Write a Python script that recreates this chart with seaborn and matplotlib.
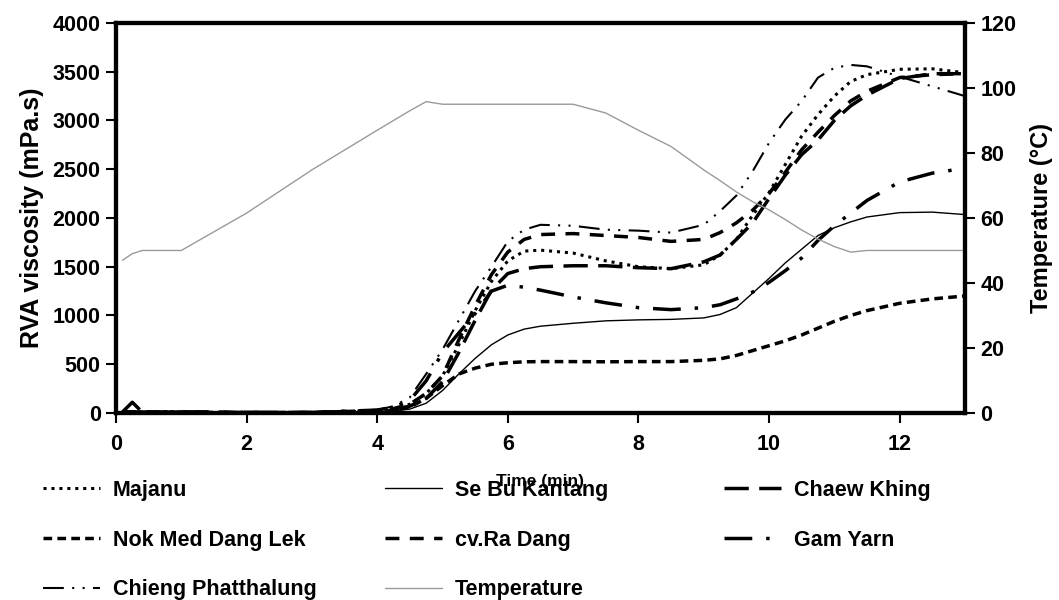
import numpy as np
import pandas as pd
import seaborn as sns
import matplotlib.pyplot as plt

# time points (min)
time = [0.1, 0.25, 0.4, 1, 2, 3, 4, 4.25, 4.5, 4.75, 5, 5.25, 5.5, 5.75,
        6, 6.25, 6.5, 7, 7.5, 8, 8.5, 9, 9.25, 9.5, 9.75, 10, 10.25, 10.5,
        10.75, 11, 11.25, 11.5, 12, 12.5, 13]

# viscosity (mPa.s)
majanu = [10, 10, 10, 10, 5, 5, 20, 40, 90, 200, 380, 700, 1050, 1350,
          1560, 1660, 1670, 1640, 1560, 1500, 1480, 1520, 1620, 1780, 2030,
          2260, 2550, 2840, 3060, 3250, 3400, 3470, 3525, 3530, 3490]
se_bu_kantang = [0, 0, 0, 0, 0, 0, 10, 20, 40, 100, 230, 400, 560, 700,
                 800, 860, 890, 920, 945, 955, 960, 975, 1010, 1080, 1230,
                 1380, 1540, 1680, 1820, 1900, 1960, 2010, 2055, 2060, 2035]
chaew_khing = [10, 110, 10, 10, 5, 5, 25, 40, 70, 150, 320, 620, 950, 1260,
               1430, 1480, 1500, 1510, 1510, 1490, 1480, 1550, 1620, 1780,
               1950, 2200, 2440, 2650, 2800, 3000, 3150, 3260, 3430, 3480, 3480]
nok_med_dang_lek = [0, 0, 0, 0, 0, 0, 15, 25, 60, 150, 280, 400, 460, 500,
                    515, 525, 527, 527, 525, 527, 527, 540, 555, 590, 640,
                    690, 740, 800, 870, 940, 1000, 1050, 1125, 1170, 1200]
ra_dang = [10, 10, 10, 10, 5, 5, 25, 45, 90, 200, 380, 750, 1100, 1420,
           1650, 1780, 1830, 1840, 1820, 1800, 1760, 1780, 1850, 1950, 2080,
           2250, 2470, 2700, 2880, 3050, 3200, 3300, 3440, 3470, 3480]
gam_yarn = [10, 10, 10, 10, 5, 5, 30, 60, 130, 330, 620, 820, 1020, 1250,
            1310, 1290, 1260, 1190, 1130, 1080, 1060, 1080, 1110, 1170, 1240,
            1340, 1460, 1590, 1770, 1920, 2050, 2180, 2370, 2460, 2510]
chieng_phatthalung = [10, 10, 10, 10, 5, 5, 30, 70, 160, 400, 650, 950, 1250,
                      1500, 1760, 1880, 1930, 1920, 1880, 1870, 1850, 1930,
                      2070, 2230, 2480, 2770, 3010, 3200, 3440, 3540, 3570,
                      3555, 3450, 3350, 3250]

# temperature (°C)
temperature = [47, 49, 50, 50, 61.5, 74.8, 87, 90, 93, 95.8, 95, 95, 95, 95,
               95, 95, 95, 95, 92.3, 87, 82, 74.8, 71.5, 68, 65, 62.5, 59.5,
               56.3, 53.5, 51.2, 49.5, 50, 50, 50, 50]

df = pd.DataFrame({'time': time, 'Majanu': majanu, 'Se Bu Kantang': se_bu_kantang,
                   'Chaew Khing': chaew_khing, 'Nok Med Dang Lek': nok_med_dang_lek,
                   'cv.Ra Dang': ra_dang, 'Gam Yarn': gam_yarn,
                   'Chieng Phatthalung': chieng_phatthalung,
                   'Temperature': temperature})

sns.set_style('white')
plt.rcParams['font.family'] = ['Liberation Sans', 'DejaVu Sans']
plt.rcParams['font.weight'] = 'bold'
plt.rcParams['text.color'] = 'black'
plt.rcParams['axes.labelcolor'] = 'black'

styles = {
    'Majanu': dict(lw=2.2, ls=(0, (1, 1.6))),
    'Se Bu Kantang': dict(lw=1.0, ls='-'),
    'Chaew Khing': dict(lw=2.5, ls=(0, (7, 3))),
    'Nok Med Dang Lek': dict(lw=2.5, ls=(0, (2.5, 1.5))),
    'cv.Ra Dang': dict(lw=2.5, ls=(0, (4, 3))),
    'Gam Yarn': dict(lw=2.5, ls=(0, (8, 4, 1, 4))),
    'Chieng Phatthalung': dict(lw=1.5, ls=(0, (10, 4, 1, 4, 1, 4))),
}

fig = plt.figure(figsize=(10.59, 6), dpi=100)
ax = fig.add_axes([0.1095, 0.3117, 0.8017, 0.65])
ax2 = ax.twinx()

lines = {}
for name, st in styles.items():
    sns.lineplot(data=df, x='time', y=name, ax=ax, color='black', legend=False,
                 linewidth=st['lw'], linestyle=st['ls'], label=name)
    lines[name] = ax.get_lines()[-1]

sns.lineplot(data=df, x='time', y='Temperature', ax=ax2, color='#9a9a9a',
             linewidth=1.0, legend=False, label='Temperature')
lines['Temperature'] = ax2.get_lines()[-1]

ax.set_xlim(0, 13)
ax.set_ylim(0, 4000)
ax2.set_ylim(0, 120)
ax.set_xticks(range(0, 13, 2))
ax.set_yticks(range(0, 4001, 500))
ax2.set_yticks(range(0, 121, 20))

ax.set_xlabel('Time (min)', fontsize=12.5, fontweight='bold', labelpad=14,
              color='black')
ax.set_ylabel('RVA viscosity (mPa.s)', fontsize=18, fontweight='bold',
              labelpad=6, color='black')
ax2.set_ylabel('Temperature (°C)', fontsize=17, fontweight='bold',
               labelpad=10, color='black')

for a in (ax, ax2):
    for sp in a.spines.values():
        sp.set_linewidth(3)
        sp.set_color('black')
    a.tick_params(direction='out', length=7, width=1.5, labelsize=15.5,
                  colors='black', pad=4)
ax.tick_params(axis='y', left=True)
ax.tick_params(axis='x', bottom=True, pad=8)
ax2.tick_params(axis='y', right=True)

# three legend columns laid out under the plot
cols = [['Majanu', 'Nok Med Dang Lek', 'Chieng Phatthalung'],
        ['Se Bu Kantang', 'cv.Ra Dang', 'Temperature'],
        ['Chaew Khing', 'Gam Yarn']]
xs = [0.0406, 0.3635, 0.6837]
for x0, names in zip(xs, cols):
    leg = fig.legend([lines[n] for n in names], names, loc='upper left',
                     bbox_to_anchor=(x0, 0.2), frameon=False, fontsize=15.5,
                     handlelength=2.65, handletextpad=0.6, labelspacing=1.33,
                     borderaxespad=0, borderpad=0)
    for t in leg.get_texts():
        t.set_fontweight('bold')
        t.set_color('black')

fig.savefig('out.png', dpi=100)
